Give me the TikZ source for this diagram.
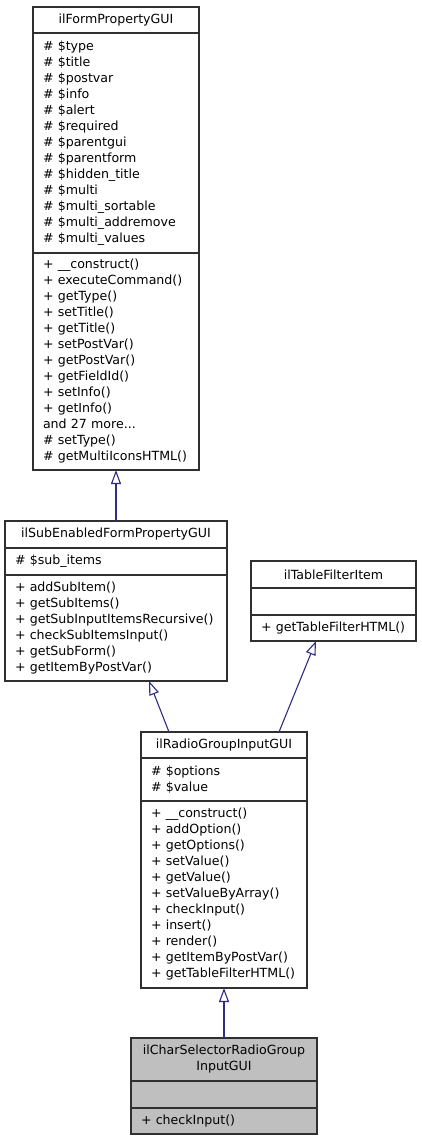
\documentclass[tikz,border=0pt]{standalone}
\usepackage{fontspec}
\newfontfamily\dejavu{DejaVu Sans}
\usetikzlibrary{arrows.meta}
\definecolor{edgeblue}{HTML}{2E2E80}
\definecolor{boxline}{HTML}{303030}
\definecolor{selgray}{HTML}{BFBFBF}
\newcommand{\umlfont}{\dejavu\fontsize{12.6pt}{16pt}\selectfont}

\begin{document}
\begin{tikzpicture}[x=1pt,y=-1pt,
	classbox/.style={draw=boxline,line width=1.1pt,outer sep=0pt,inner sep=0pt,anchor=north west,font=\umlfont},
	titlepart/.style 2 args={classbox,align=center,minimum width=#1,minimum height=#2},
	listpart/.style 2 args={classbox,inner xsep=10pt,align=left,minimum width=#1,text width=#1-20pt,minimum height=#2},
	inherit/.style={draw=edgeblue,line width=1.1pt,-{Triangle[open,fill=white,length=14pt,width=10pt]}}]
		\path[fill=white,use as bounding box] (0,0) rectangle (421,1141);
%		\draw[help lines] (0,0) grid (421,1141);
		\path (33,7) coordinate (form);
		\path (5,521) coordinate (sub);
		\path (251,561) coordinate (filter);
		\path (141,732) coordinate (radio);
		\path (131,1038) coordinate (char);

		% ilFormPropertyGUI
		\node[titlepart={166pt}{26pt}] (form_title) at (form) {ilFormPropertyGUI};
		\node[listpart={166pt}{220pt}] (form_attrs) at (form_title.south west)
			{\# \$type\\\# \$title\\\# \$postvar\\\# \$info\\\# \$alert\\\# \$required\\\# \$parentgui\\\# \$parentform\\\# \$hidden\_title\\\# \$multi\\\# \$multi\_sortable\\\# \$multi\_addremove\\\# \$multi\_values};
		\node[listpart={166pt}{217pt}] (form_methods) at (form_attrs.south west)
			{+ \_\_construct()\\+ executeCommand()\\+ getType()\\+ setTitle()\\+ getTitle()\\+ setPostVar()\\+ getPostVar()\\+ getFieldId()\\+ setInfo()\\+ getInfo()\\and 27 more...\\\# setType()\\\# getMultiIconsHTML()};

		% ilSubEnabledFormPropertyGUI
		\node[titlepart={222pt}{27pt}] (sub_title) at (sub) {ilSubEnabledFormPropertyGUI};
		\node[listpart={222pt}{27pt}] (sub_attrs) at (sub_title.south west) {\# \$sub\_items};
		\node[listpart={222pt}{106pt}] (sub_methods) at (sub_attrs.south west)
			{+ addSubItem()\\+ getSubItems()\\+ getSubInputItemsRecursive()\\+ checkSubItemsInput()\\+ getSubForm()\\+ getItemByPostVar()};

		% ilTableFilterItem
		\node[titlepart={165pt}{27pt}] (filter_title) at (filter) {ilTableFilterItem};
		\node[titlepart={165pt}{27pt}] (filter_attrs) at (filter_title.south west) {};
		\node[listpart={165pt}{26pt}] (filter_methods) at (filter_attrs.south west) {+ getTableFilterHTML()};

		% ilRadioGroupInputGUI
		\node[titlepart={166pt}{26pt}] (radio_title) at (radio) {ilRadioGroupInputGUI};
		\node[listpart={166pt}{43pt}] (radio_attrs) at (radio_title.south west) {\# \$options\\\# \$value};
		\node[listpart={166pt}{187pt}] (radio_methods) at (radio_attrs.south west)
			{+ \_\_construct()\\+ addOption()\\+ getOptions()\\+ setValue()\\+ getValue()\\+ setValueByArray()\\+ checkInput()\\+ insert()\\+ render()\\+ getItemByPostVar()\\+ getTableFilterHTML()};

		% ilCharSelectorRadioGroupInputGUI
		\node[titlepart={186pt}{43pt},fill=selgray] (char_title) at (char) {ilCharSelectorRadioGroup\\InputGUI};
		\node[titlepart={186pt}{27pt},fill=selgray] (char_attrs) at (char_title.south west) {};
		\node[listpart={186pt}{26pt},fill=selgray] (char_methods) at (char_attrs.south west) {+ checkInput()};

		% inheritance
		\draw[inherit] ([xshift=111pt]sub_title.north west) -- (form_methods.south);
		\draw[inherit] ([xshift=28pt]radio_title.north west) -- ([xshift=144pt]sub_methods.south west);
		\draw[inherit] ([xshift=138pt]radio_title.north west) -- ([xshift=65pt]filter_methods.south west);
		\draw[inherit] (char_title.north) -- (radio_methods.south);
	\end{tikzpicture}
\end{document}
